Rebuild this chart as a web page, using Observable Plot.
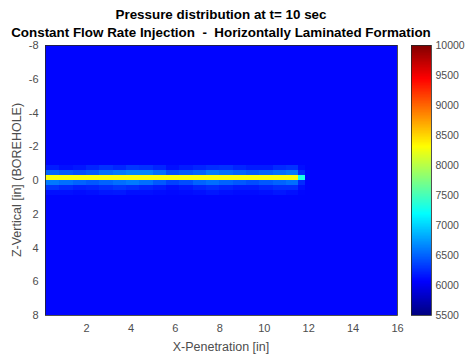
<!DOCTYPE html>
<html><head><meta charset="utf-8">
<script src="https://cdn.jsdelivr.net/npm/d3@7"></script>
<script src="https://cdn.jsdelivr.net/npm/@observablehq/plot@0.6"></script>
<style>
body{margin:0;background:#fff;font-family:"Liberation Sans",Arial,sans-serif;}
#wrap{position:relative;width:468px;height:356px;background:#fff;overflow:hidden;}
.t{position:absolute;left:0;width:442px;text-align:center;font-weight:bold;font-size:13.4px;line-height:15px;color:#000;white-space:pre;}
.lab{position:absolute;font-size:12.5px;line-height:14px;color:#4d4d4d;white-space:pre;}
#p1,#p2{position:absolute;top:0;}
#p1{left:0;} #p2{left:411px;}
</style></head><body>
<div id="wrap">
<div id="p1"></div><div id="p2"></div>
<div class="t" style="top:7px">Pressure distribution at t= 10 sec</div>
<div class="t" style="top:25px">Constant Flow Rate Injection  -  Horizontally Laminated Formation</div>
<div class="lab" style="left:0;width:442px;top:340px;text-align:center">X-Penetration [in]</div>
<div class="lab" style="left:17px;top:180px;transform:translate(-50%,-50%) rotate(-90deg);">Z-Vertical [in] (BOREHOLE)</div>
</div>
<script>
// ---- data ----
const xTicks = [2, 4, 6, 8, 10, 12, 14, 16];
const zTicks = [-8, -6, -4, -2, 0, 2, 4, 6, 8];
const cbTicks = [5500, 6000, 6500, 7000, 7500, 8000, 8500, 9000, 9500, 10000];
const xDomain = [0.15, 16];
const zDomain = [-8, 8];
const background = 6080;
// segment edges along X (inches)
const segX = [0.15, 0.8, 1.4, 2.0, 2.6, 3.2, 3.8, 4.4, 5.0, 5.6, 6.2, 6.8, 7.4, 8.0, 8.6, 9.2, 9.8, 10.4, 11.0, 11.55, 11.85];
// row bounds in Z (inches)
const rowZ = [[-0.9, -0.6], [-0.6, -0.3], [-0.3, 0.0], [0.0, 0.3], [0.3, 0.6], [0.6, 0.9]];
const rowFarAbove = [6180, 6130, 6160, 6220, 6280, 6230, 6300, 6280, 6220, 6130, 6180, 6220, 6260, 6280, 6220, 6180, 6180, 6250, 6280, 6120];
const rowAbove    = [6500, 6450, 6400, 6450, 6550, 6600, 6650, 6650, 6550, 6400, 6450, 6500, 6600, 6550, 6500, 6450, 6500, 6550, 6600, 6250];
const rowLine     = [8280, 8280, 8280, 8280, 8280, 8280, 8280, 8280, 8280, 8280, 8280, 8280, 8280, 8280, 8280, 8280, 8280, 8280, 8280, 7300];
const rowBelow    = [6600, 6550, 6500, 6450, 6500, 6550, 6600, 6550, 6450, 6350, 6400, 6500, 6550, 6500, 6450, 6400, 6450, 6500, 6550, 6250];
const rowFarBelow = [6300, 6250, 6200, 6220, 6260, 6300, 6260, 6220, 6180, 6130, 6170, 6220, 6260, 6220, 6180, 6180, 6220, 6260, 6260, 6130];
const rowFarther  = [6130, 6130, 6110, 6130, 6160, 6170, 6130, 6130, 6110, 6100, 6110, 6130, 6160, 6130, 6110, 6110, 6130, 6160, 6130, 6090];
const rows = [rowFarAbove, rowAbove, rowLine, rowBelow, rowFarBelow, rowFarther];

// ---- build table ----
const cells = [{x1: xDomain[0], x2: xDomain[1], y1: zDomain[0], y2: zDomain[1], v: background}];
rows.forEach((vals, r) => {
  vals.forEach((v, i) => {
    cells.push({x1: segX[i], x2: segX[i + 1], y1: rowZ[r][0], y2: rowZ[r][1], v});
  });
});

// jet colormap
const jet = d3.scaleLinear()
  .domain([0, 0.125, 0.375, 0.625, 0.875, 1])
  .range(["#000080", "#0000ff", "#00ffff", "#ffff00", "#ff0000", "#800000"])
  .interpolate(d3.interpolateRgb);
const colorOpts = {type: "linear", domain: [5500, 10000], interpolate: t => jet(t), clamp: true};
const font = '"Liberation Sans", Arial, sans-serif';
const fmt = d => String(d);

const main = Plot.plot({
  width: 468, height: 356,
  marginLeft: 45, marginRight: 71, marginTop: 45, marginBottom: 41,
  style: {fontFamily: font, fontSize: "11px", color: "#4d4d4d", background: "transparent"},
  x: {domain: xDomain},
  y: {domain: zDomain, reverse: true},
  color: colorOpts,
  marks: [
    Plot.rect(cells, {x1: "x1", x2: "x2", y1: "y1", y2: "y2", fill: "v", shapeRendering: "crispEdges"}),
    Plot.frame({stroke: "#262626", strokeWidth: 0.8}),
    Plot.axisX(xTicks, {tickSize: 0, tickPadding: 9, label: null, tickFormat: fmt}),
    Plot.axisY(zTicks, {tickSize: 0, tickPadding: 7, label: null, tickFormat: fmt})
  ]
});
document.getElementById("p1").appendChild(main);

const cbVals = d3.range(5500, 10000, 10);
const cb = Plot.plot({
  width: 57, height: 356,
  marginLeft: 0, marginRight: 37, marginTop: 45, marginBottom: 41,
  style: {fontFamily: font, fontSize: "10.5px", color: "#4d4d4d", background: "transparent"},
  x: {domain: [0, 1], axis: null},
  y: {domain: [5500, 10000]},
  color: colorOpts,
  marks: [
    Plot.rect(cbVals, {x1: 0, x2: 1, y1: d => d, y2: d => d + 10, fill: d => d + 5, shapeRendering: "crispEdges"}),
    Plot.frame({stroke: "#262626", strokeWidth: 0.8}),
    Plot.axisY(cbTicks, {anchor: "right", tickSize: 0, tickPadding: 4, label: null, tickFormat: fmt})
  ]
});
document.getElementById("p2").appendChild(cb);
</script>
</body></html>
